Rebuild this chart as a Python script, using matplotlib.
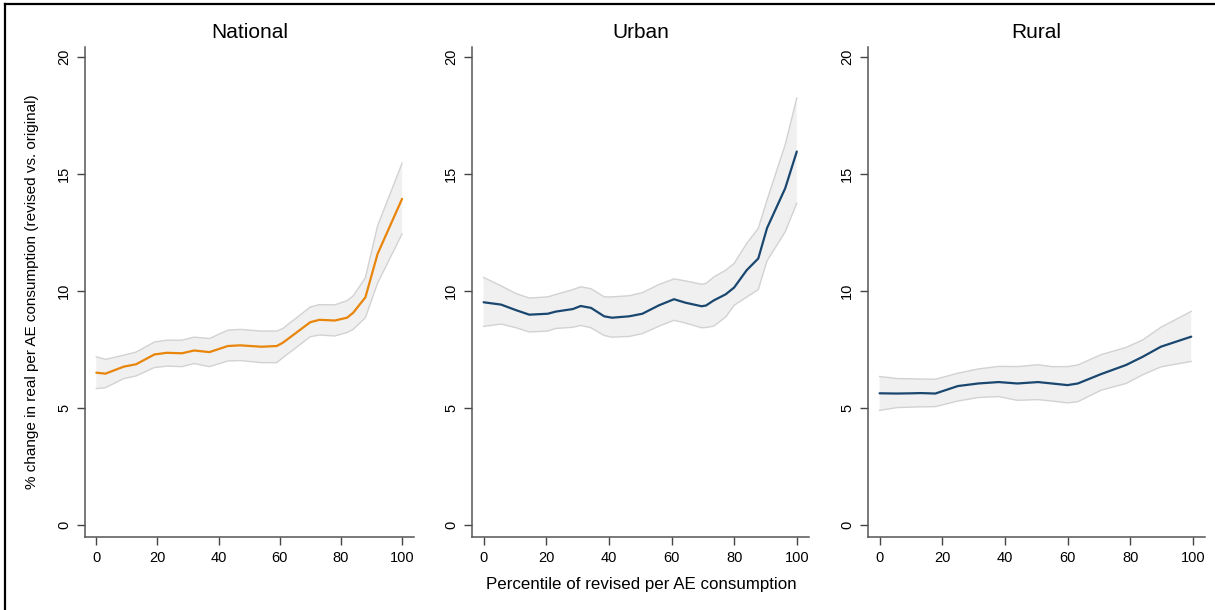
import matplotlib
matplotlib.use("Agg")
import matplotlib.pyplot as plt
from matplotlib.lines import Line2D

# ---------------- data ----------------
nat_x = [0, 3, 9, 13, 19, 23, 28, 32, 37, 43, 47, 54, 59, 61, 70, 73, 78, 82, 84, 88, 92, 100]
nat_mean = [6.52, 6.48, 6.78, 6.88, 7.30, 7.37, 7.35, 7.47, 7.40, 7.66, 7.69, 7.63, 7.66, 7.80,
            8.68, 8.78, 8.75, 8.87, 9.08, 9.74, 11.6, 13.95]
nat_hi = [7.20, 7.09, 7.27, 7.40, 7.83, 7.91, 7.91, 8.04, 7.98, 8.34, 8.37, 8.30, 8.30, 8.41,
          9.33, 9.43, 9.42, 9.60, 9.80, 10.58, 12.8, 15.47]
nat_lo = [5.84, 5.88, 6.27, 6.38, 6.74, 6.80, 6.78, 6.91, 6.78, 7.02, 7.04, 6.95, 6.95, 7.16,
          8.06, 8.13, 8.09, 8.24, 8.37, 8.87, 10.35, 12.45]

urb_x = [0, 5.6, 10.4, 14.6, 20.5, 23, 28.5, 31, 34.3, 38.5, 41, 46.5, 50.7, 56, 60.8, 64.5,
         69.6, 71, 73.5, 77.3, 80, 84, 87.7, 90.5, 96.3, 100]
urb_mean = [9.53, 9.43, 9.19, 9.00, 9.04, 9.13, 9.24, 9.37, 9.29, 8.93, 8.87, 8.93, 9.04, 9.40,
            9.66, 9.51, 9.36, 9.39, 9.61, 9.87, 10.16, 10.90, 11.40, 12.70, 14.40, 15.97]
urb_hi = [10.59, 10.23, 9.90, 9.71, 9.76, 9.86, 10.07, 10.19, 10.11, 9.76, 9.76, 9.81, 9.94,
          10.29, 10.53, 10.44, 10.30, 10.33, 10.61, 10.90, 11.19, 12.04, 12.69, 13.90, 16.26, 18.26]
urb_lo = [8.50, 8.60, 8.44, 8.26, 8.30, 8.41, 8.46, 8.54, 8.44, 8.11, 8.04, 8.07, 8.19, 8.51,
          8.76, 8.64, 8.44, 8.45, 8.51, 8.90, 9.40, 9.75, 10.07, 11.30, 12.54, 13.76]

rur_x = [0, 5.6, 10.4, 13, 17.8, 25, 31.5, 38, 44, 50.6, 55, 60, 63.3, 70.7, 78.7, 84, 89.8, 99.5]
rur_mean = [5.64, 5.63, 5.64, 5.65, 5.63, 5.95, 6.06, 6.12, 6.06, 6.12, 6.06, 5.99, 6.06, 6.46,
            6.85, 7.20, 7.63, 8.06]
rur_hi = [6.36, 6.27, 6.26, 6.25, 6.24, 6.50, 6.68, 6.79, 6.78, 6.86, 6.78, 6.78, 6.85, 7.29,
          7.60, 7.92, 8.46, 9.14]
rur_lo = [4.91, 5.03, 5.05, 5.06, 5.07, 5.31, 5.46, 5.50, 5.34, 5.37, 5.31, 5.23, 5.28, 5.77,
          6.06, 6.43, 6.77, 7.00]

titles = ["National", "Urban", "Rural"]
x_ticks = [0, 20, 40, 60, 80, 100]
y_ticks = [0, 5, 10, 15, 20]
y_label = "% change in real per AE consumption (revised vs. original)"
x_label = "Percentile of revised per AE consumption"

# ---------------- figure ----------------
plt.rcParams['font.family'] = ['Liberation Sans', 'DejaVu Sans']
W, H = 1215, 610
fig = plt.figure(figsize=(W / 100, H / 100), dpi=100)
fig.patch.set_facecolor("white")

def px_axes(left, top, right, bottom):
    return fig.add_axes([left / W, 1 - bottom / H, (right - left) / W, (bottom - top) / H])

panels = [
    (px_axes(85, 46.7, 414, 537), nat_x, nat_mean, nat_lo, nat_hi, "#E8850A"),
    (px_axes(472, 46.7, 809, 537), urb_x, urb_mean, urb_lo, urb_hi, "#1A476F"),
    (px_axes(868, 46.7, 1205, 537), rur_x, rur_mean, rur_lo, rur_hi, "#1A476F"),
]

for (ax, x, m, lo, hi, col), title in zip(panels, titles):
    ax.fill_between(x, lo, hi, facecolor="#F0F0F0", edgecolor="none", zorder=1)
    ax.plot(x, hi, color="#D2D2D2", lw=1.0, zorder=2, solid_joinstyle="round")
    ax.plot(x, lo, color="#D2D2D2", lw=1.0, zorder=2, solid_joinstyle="round")
    ax.plot(x, m, color=col, lw=1.6, zorder=3, solid_capstyle="round", solid_joinstyle="round")
    ax.set_xlim(-3.7, 103.9)
    ax.set_ylim(-0.5, 20.45)
    ax.set_xticks(x_ticks)
    ax.set_yticks(y_ticks)
    ax.set_yticklabels([str(v) for v in y_ticks], rotation=90, va="center")
    for s in ["top", "right"]:
        ax.spines[s].set_visible(False)
    for s in ["left", "bottom"]:
        ax.spines[s].set_color("#555555")
        ax.spines[s].set_linewidth(1.1)
    ax.tick_params(axis="both", direction="out", length=6, width=1.0, color="#444444",
                   labelsize=10.5, labelcolor="black")
    ax.tick_params(axis="y", pad=4)
    ax.tick_params(axis="x", pad=4)
    ax.set_title(title, fontsize=15, pad=6)

fig.text(32 / W, 1 - 292 / H, y_label, rotation=90, ha="center", va="center", fontsize=11)
fig.text(641 / W, 1 - 585 / H, x_label, ha="center", va="center", fontsize=12.2)

# outer frame (left and top edges visible)
fig.add_artist(Line2D([5 / W, 5 / W], [0, 1 - 4 / H], transform=fig.transFigure,
                      color="black", lw=1.6))
fig.add_artist(Line2D([5 / W, 1], [1 - 4 / H, 1 - 4 / H], transform=fig.transFigure,
                      color="black", lw=1.6))

fig.savefig("out.png", dpi=100, facecolor="white")
